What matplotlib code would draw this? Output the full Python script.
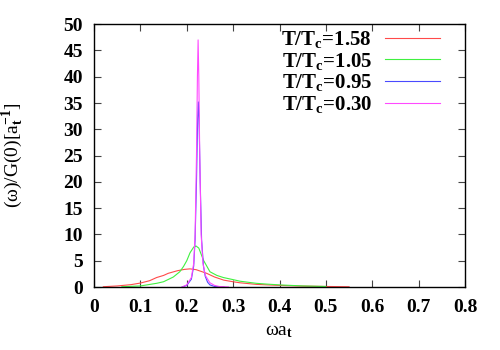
import numpy as np
import matplotlib
matplotlib.use('Agg')
import matplotlib.pyplot as plt

# spectral functions
w_158 = [0.02, 0.05, 0.08, 0.10, 0.12, 0.135, 0.15, 0.16, 0.18, 0.195, 0.207, 0.22, 0.23,
         0.243, 0.26, 0.28, 0.30, 0.315, 0.35, 0.40, 0.45, 0.50, 0.55]
g_158 = [0.05, 0.2, 0.45, 0.75, 1.2, 1.8, 2.2, 2.6, 3.1, 3.35, 3.45, 3.3, 3.0,
         2.6, 1.9, 1.3, 1.0, 0.8, 0.5, 0.3, 0.18, 0.1, 0.05]

w_105 = [0.06, 0.10, 0.135, 0.15, 0.171, 0.185, 0.193, 0.20, 0.207, 0.215, 0.22, 0.226,
         0.236, 0.25, 0.265, 0.279, 0.30, 0.315, 0.35, 0.373, 0.40, 0.45, 0.50]
g_105 = [0.05, 0.2, 0.7, 1.0, 1.9, 2.9, 3.9, 5.0, 6.5, 7.6, 7.8, 7.4,
         5.1, 2.9, 2.2, 1.8, 1.4, 1.1, 0.7, 0.55, 0.4, 0.2, 0.1]

w_095 = [0.19, 0.20, 0.21, 0.215, 0.218, 0.221, 0.2235, 0.225, 0.2265, 0.229, 0.232,
         0.236, 0.24, 0.245, 0.25, 0.26, 0.28]
g_095 = [0.0, 0.3, 1.5, 4.0, 9.0, 20.0, 32.0, 35.2, 32.0, 20.0, 9.0,
         4.0, 2.0, 0.9, 0.4, 0.1, 0.0]

w_030 = [0.19, 0.20, 0.21, 0.215, 0.218, 0.221, 0.223, 0.2245, 0.226, 0.228, 0.231,
         0.235, 0.24, 0.25, 0.26, 0.27, 0.29]
g_030 = [0.0, 0.4, 1.8, 4.5, 10.0, 25.0, 40.0, 47.0, 40.0, 25.0, 10.0,
         4.5, 2.2, 0.8, 0.3, 0.1, 0.0]

labels = ['1.58', '1.05', '0.95', '0.30']
colors = ['#ff4a4a', '#40f040', '#4a4aff', '#ff4aff']
xticks = ['0', '0.1', '0.2', '0.3', '0.4', '0.5', '0.6', '0.7', '0.8']

plt.rcParams['font.family'] = ['Liberation Serif', 'DejaVu Serif']
plt.rcParams['font.weight'] = 'bold'
plt.rcParams['mathtext.fontset'] = 'custom'
plt.rcParams['mathtext.rm'] = 'Liberation Serif:bold'
plt.rcParams['mathtext.it'] = 'Liberation Serif:bold'
plt.rcParams['mathtext.bf'] = 'Liberation Serif:bold'

fig = plt.figure(figsize=(5, 3.5), dpi=100)
ax = fig.add_axes([0.188, 0.18, 0.742, 0.751])

series = [(w_158, g_158), (w_105, g_105), (w_095, g_095), (w_030, g_030)]
for (w, g), lab, c in zip(series, labels, colors):
    ax.plot(w, g, color=c, lw=0.8, label=r'T/T$_\mathrm{c}$=' + lab)

ax.set_xlim(0, 0.8)
ax.set_ylim(0, 50)
ax.set_xticks(np.arange(0, 0.81, 0.1))
ax.set_xticklabels(xticks)
ax.set_yticks(np.arange(0, 51, 5))
ax.tick_params(direction='in', length=5, width=0.8, top=True, right=True,
               labelsize=14, color='#444444')
ax.tick_params(axis='x', pad=9)
ax.tick_params(axis='y', pad=8)
for s in ax.spines.values():
    s.set_linewidth(1.0)

ax.set_xlabel(r'ωa$_\mathrm{t}$', fontsize=14, labelpad=5)
ax.set_ylabel(r'(ω)/G(0)[a$_\mathrm{t}^{\mathrm{-1}}$]', fontsize=14)
ax.yaxis.set_label_coords(-0.182, 0.5)

leg = ax.legend(loc='upper right', frameon=False, markerfirst=False, fontsize=15,
                handlelength=2.65, labelspacing=0.03, borderaxespad=0.0, borderpad=0.0,
                handletextpad=0.62, bbox_to_anchor=(0.933, 0.981))

fig.savefig('out.png', dpi=100)
